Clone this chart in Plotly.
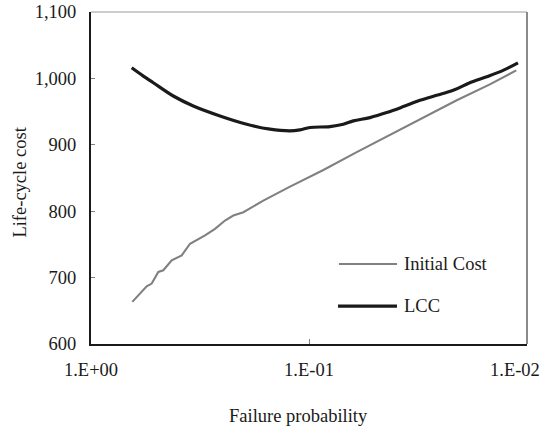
import plotly.graph_objects as go

# ---- data ----
initial_cost_p = [0.6466, 0.5958, 0.5553, 0.5266, 0.4912, 0.4659, 0.4264, 0.3836,
                  0.3514, 0.2999, 0.2699, 0.2428, 0.2224, 0.2000, 0.1620, 0.1222,
                  0.0859, 0.0604, 0.0425, 0.0299, 0.0210, 0.0148, 0.0112]
initial_cost = [663.5, 676, 687, 691, 708.5, 711, 726, 733.5,
                751, 763.5, 773.5, 786, 793.5, 798.5, 816, 837,
                862, 889, 915, 941, 967, 991, 1012]

lcc_p = [0.6506, 0.5755, 0.5179, 0.4194, 0.3394, 0.2560, 0.1931, 0.1510,
         0.1223, 0.1100, 0.0989, 0.0801, 0.0696, 0.0626, 0.0525, 0.0440,
         0.0369, 0.0310, 0.0260, 0.0218, 0.0183, 0.0153, 0.0128, 0.0110]
lcc = [1016, 1003.5, 993.5, 973.5, 958.5, 943.5, 931, 923.5,
       921, 922.5, 926, 927.5, 931, 936, 941, 948.5,
       957.5, 967, 974.5, 982, 993.5, 1002.5, 1012.5, 1023.5]

x_tick_vals = [1, 0.1, 0.01]
x_tick_text = ["1.E+00", "1.E-01", "1.E-02"]
y_tick_vals = [600, 700, 800, 900, 1000, 1100]

FONT = "Liberation Serif, Times New Roman, serif"
FS = 18.5
TXT = "#1a1a1a"
GREY = "#808080"
BLACK = "#1a1a1a"

fig = go.Figure()
fig.add_trace(go.Scatter(x=initial_cost_p, y=initial_cost, mode="lines",
                         name="Initial Cost", line=dict(color=GREY, width=2.1),
                         showlegend=False))
fig.add_trace(go.Scatter(x=lcc_p, y=lcc, mode="lines", name="LCC",
                         line=dict(color=BLACK, width=3.2, shape="spline"),
                         showlegend=False))

# the last x tick label sits pulled inside the chart (as in the reference),
# so it is written as an annotation at its tick
fig.update_layout(
    width=552, height=431,
    margin=dict(l=91, r=25, t=12, b=87),
    paper_bgcolor="white", plot_bgcolor="white",
    font=dict(family=FONT, size=FS, color=TXT),
    xaxis=dict(type="log", range=[0, -2], tickvals=x_tick_vals,
               ticktext=x_tick_text[:-1] + [""],
               showgrid=False, zeroline=False, showline=True, linecolor=BLACK,
               linewidth=2, ticks="inside", ticklen=5, tickcolor=GREY, tickwidth=1,
               ticklabelstandoff=8, automargin=False, ticklabeloverflow="allow"),
    yaxis=dict(range=[600, 1100], tickvals=y_tick_vals, tickformat=",",
               showgrid=False, zeroline=False, showline=True, linecolor=BLACK,
               linewidth=2, ticks="inside", ticklen=4, tickcolor=GREY, tickwidth=1,
               ticklabelstandoff=9, automargin=False, ticklabeloverflow="allow"),
)
fig.add_annotation(text=x_tick_text[-1], xref="x", yref="paper",
                   x=-2, y=-0.0783, xanchor="right", yanchor="middle", xshift=15,
                   showarrow=False, font=dict(family=FONT, size=FS, color=TXT))

# box: thin top line and grey right line
fig.add_shape(type="line", xref="paper", yref="paper", x0=0, x1=1, y0=1, y1=1,
              line=dict(color="#9a9a9a", width=1))
fig.add_shape(type="line", xref="paper", yref="paper", x0=1, x1=1, y0=0, y1=1,
              line=dict(color="#8a8a8a", width=2))

# legend drawn in place
fig.add_shape(type="line", xref="paper", yref="paper", x0=0.5688, x1=0.7018,
              y0=0.2407, y1=0.2407, line=dict(color=GREY, width=2))
fig.add_shape(type="line", xref="paper", yref="paper", x0=0.5665, x1=0.7018,
              y0=0.1143, y1=0.1143, line=dict(color=BLACK, width=3.2))
fig.add_annotation(text="Initial Cost", xref="paper", yref="paper", x=0.7133, y=0.2407,
                   xanchor="left", yanchor="middle", showarrow=False,
                   font=dict(family=FONT, size=FS, color=TXT))
fig.add_annotation(text="LCC", xref="paper", yref="paper", x=0.7133, y=0.1143,
                   xanchor="left", yanchor="middle", showarrow=False,
                   font=dict(family=FONT, size=FS, color=TXT))

# axis titles
fig.add_annotation(text="Failure probability", xref="paper", yref="paper",
                   x=0.477, y=-0.2167, xanchor="center", yanchor="middle",
                   showarrow=False, font=dict(family=FONT, size=FS, color=TXT))
fig.add_annotation(text="Life-cycle cost", xref="paper", yref="paper",
                   x=-0.163, y=0.489, xanchor="center", yanchor="middle", textangle=-90,
                   showarrow=False, font=dict(family=FONT, size=FS, color=TXT))

fig.write_html("out.html", config={"displayModeBar": False},
               post_script="document.body.style.margin='0';document.body.style.overflow='hidden';")
